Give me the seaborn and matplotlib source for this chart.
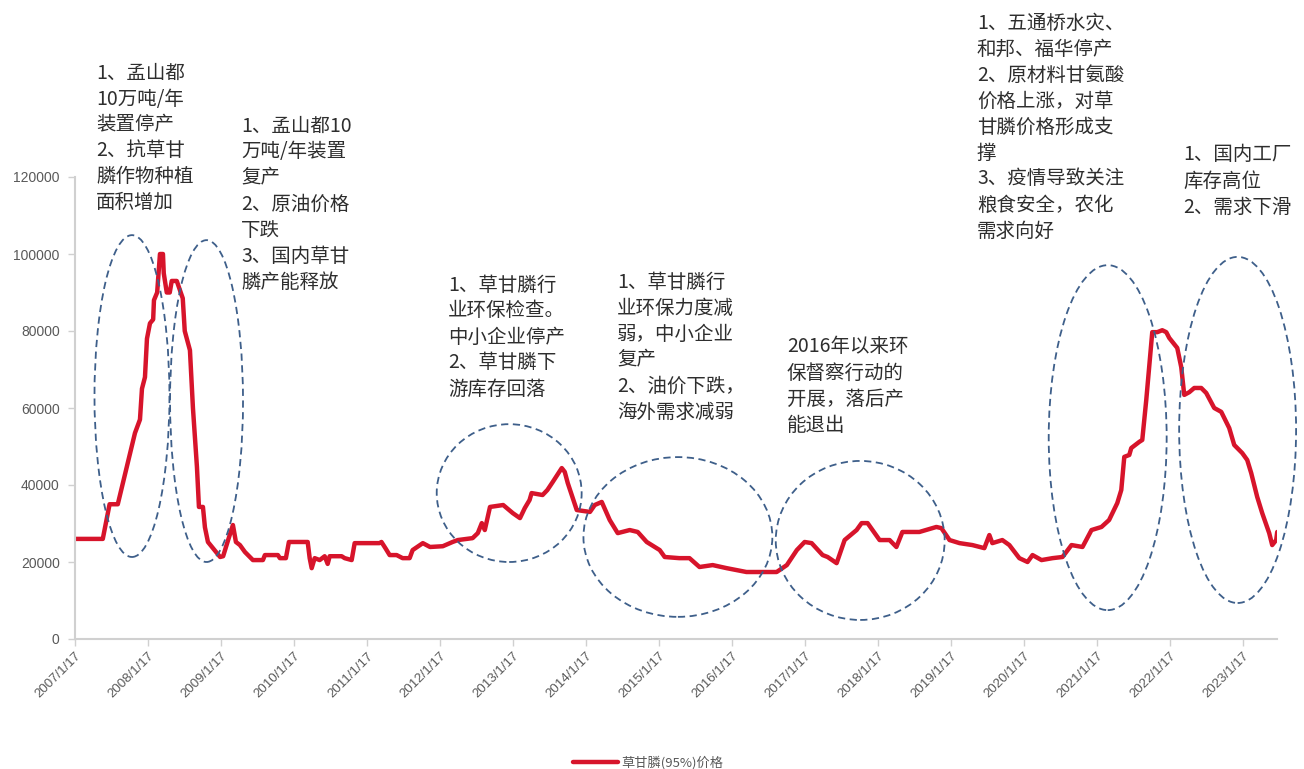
import matplotlib
matplotlib.use("Agg")
import matplotlib.pyplot as plt
import matplotlib.dates as mdates
from matplotlib.patches import Ellipse
import pandas as pd
import seaborn as sns

# Weekly glyphosate (95%) price, sampled at turning points (yuan/ton)
dates = [
    "2007-01-17", "2007-06-05", "2007-07-09", "2007-08-19", "2007-11-13", "2007-12-08",
    "2007-12-18", "2008-01-02", "2008-01-12", "2008-01-27", "2008-02-12", "2008-02-16",
    "2008-03-03", "2008-03-17", "2008-04-01", "2008-04-05", "2008-04-20", "2008-05-05",
    "2008-05-15", "2008-06-09", "2008-07-09", "2008-07-19", "2008-08-14", "2008-08-29",
    "2008-09-18", "2008-09-28", "2008-10-18", "2008-10-28", "2008-11-12", "2008-12-07",
    "2009-01-12", "2009-01-27", "2009-02-21", "2009-03-17", "2009-04-01", "2009-04-21",
    "2009-05-16", "2009-06-10", "2009-06-25", "2009-08-14", "2009-08-24", "2009-10-28",
    "2009-11-07", "2009-12-07", "2009-12-22", "2010-03-26", "2010-04-05", "2010-04-15",
    "2010-04-30", "2010-05-25", "2010-06-19", "2010-07-04", "2010-07-14", "2010-09-12",
    "2010-09-27", "2010-11-01", "2010-11-16", "2011-03-20", "2011-03-30", "2011-04-20",
    "2011-05-10", "2011-06-14", "2011-07-14", "2011-08-18", "2011-09-02", "2011-10-23",
    "2011-11-28", "2012-01-31", "2012-03-20", "2012-04-15", "2012-06-28", "2012-07-24",
    "2012-08-13", "2012-08-28", "2012-09-23", "2012-11-28", "2013-01-15", "2013-02-20",
    "2013-03-16", "2013-04-09", "2013-04-19", "2013-06-13", "2013-07-07", "2013-08-03",
    "2013-09-17", "2013-10-02", "2013-10-17", "2013-12-01", "2014-02-05", "2014-03-01",
    "2014-04-05", "2014-05-15", "2014-06-24", "2014-08-23", "2014-10-02", "2014-11-16",
    "2015-01-20", "2015-02-14", "2015-04-28", "2015-06-18", "2015-08-07", "2015-10-12",
    "2015-12-21", "2016-03-29", "2016-08-27", "2016-10-17", "2016-12-06", "2017-01-14",
    "2017-02-18", "2017-04-14", "2017-05-09", "2017-06-23", "2017-08-02", "2017-10-01",
    "2017-10-26", "2017-11-25", "2018-01-24", "2018-03-15", "2018-04-18", "2018-05-18",
    "2018-08-11", "2018-11-04", "2018-11-29", "2019-01-09", "2019-02-28", "2019-05-03",
    "2019-07-02", "2019-07-27", "2019-08-11", "2019-09-30", "2019-11-04", "2019-12-24",
    "2020-02-03", "2020-02-28", "2020-04-13", "2020-06-07", "2020-07-27", "2020-09-10",
    "2020-11-04", "2020-12-19", "2021-02-07", "2021-03-17", "2021-04-27", "2021-05-17",
    "2021-06-01", "2021-06-26", "2021-07-06", "2021-08-15", "2021-08-30", "2021-09-19",
    "2021-10-19", "2021-11-13", "2021-12-08", "2021-12-28", "2022-01-12", "2022-02-21",
    "2022-03-13", "2022-03-28", "2022-04-22", "2022-05-17", "2022-06-21", "2022-07-16",
    "2022-08-25", "2022-09-29", "2022-11-08", "2022-12-03", "2023-01-12", "2023-02-06",
    "2023-02-26", "2023-03-28", "2023-04-22", "2023-05-27", "2023-06-11", "2023-07-01",
    "2023-07-06",
]
prices = [
    26000, 26000, 35000, 35000, 53500, 57000,
    65000, 68000, 78000, 82000, 83000, 88000,
    90000, 100000, 100000, 95000, 90000, 90000,
    93000, 93000, 88500, 80000, 75000, 60000,
    44700, 34300, 34300, 29000, 25200, 23600,
    21300, 21500, 25700, 29600, 25200, 24400,
    22600, 21300, 20500, 20500, 21800, 21800,
    21000, 21000, 25200, 25200, 21000, 18400,
    21000, 20500, 21500, 19500, 21500, 21500,
    21000, 20500, 24900, 24900, 25200, 23500,
    21800, 21800, 21000, 21000, 23100, 24900,
    23900, 24100, 25200, 25700, 26200, 27500,
    30100, 28300, 34300, 34800, 32700, 31400,
    34000, 36100, 37900, 37400, 38700, 40800,
    44400, 43400, 40500, 33500, 33000, 34800,
    35600, 30900, 27500, 28300, 27800, 25200,
    23100, 21300, 21000, 21000, 18700, 19200,
    18400, 17400, 17400, 19200, 23100, 25200,
    24900, 21800, 21300, 19700, 25700, 28300,
    30100, 30100, 25700, 25700, 23900, 27800,
    27800, 29100, 28800, 25700, 24900, 24400,
    23600, 27000, 24900, 25700, 24400, 21000,
    20000, 21800, 20500, 21000, 21300, 24400,
    23900, 28300, 29100, 30900, 35300, 38700,
    47300, 47800, 49600, 51200, 51700, 62100,
    79700, 79700, 80200, 79700, 78200, 75600,
    70600, 63400, 64100, 65200, 65200, 63900,
    60000, 59000, 54800, 50400, 48300, 46500,
    43100, 36900, 32700, 27500, 24400, 25700,
    27800,
]
series_name = "草甘膦(95%)价格"
tick_dates = [f"{y}-01-17" for y in range(2007, 2024)]
y_ticks = [0, 20000, 40000, 60000, 80000, 100000, 120000]

notes = [
    ["1、孟山都", "10万吨/年", "装置停产", "2、抗草甘", "膦作物种植", "面积增加"],
    ["1、孟山都10", "万吨/年装置", "复产", "2、原油价格", "下跌", "3、国内草甘", "膦产能释放"],
    ["1、草甘膦行", "业环保检查。", "中小企业停产", "2、草甘膦下", "游库存回落"],
    ["1、草甘膦行", "业环保力度减", "弱，中小企业", "复产", "2、油价下跌，", "海外需求减弱"],
    ["2016年以来环", "保督察行动的", "开展，落后产", "能退出"],
    ["1、五通桥水灾、", "和邦、福华停产", "2、原材料甘氨酸", "价格上涨，对草",
     "甘膦价格形成支", "撑", "3、疫情导致关注", "粮食安全，农化", "需求向好"],
    ["1、国内工厂", "库存高位", "2、需求下滑"],
]

df = pd.DataFrame({"date": pd.to_datetime(dates), "price": prices})

sns.set_theme(style="white")
plt.rcParams["font.family"] = ["Noto Sans CJK SC", "DejaVu Sans"]

W, H = 1304, 769
fig = plt.figure(figsize=(W / 100, H / 100), dpi=100)
ax = fig.add_axes([75 / W, 1 - 639 / H, 1202 / W, 462 / H])

sns.lineplot(data=df, x="date", y="price", ax=ax, color="#D7142B",
             linewidth=3.2, label=series_name)

ax.set_xlim(pd.Timestamp("2007-01-17"), pd.Timestamp("2023-07-05"))
ax.set_ylim(0, 120000)
ax.set_xlabel("")
ax.set_ylabel("")

grey = "#595959"
tick_font = ["Liberation Sans", "DejaVu Sans"]
ax.set_yticks(y_ticks)
ax.set_yticklabels([str(v) for v in y_ticks], color=grey, fontsize=10,
                   family=tick_font)
tick_ts = pd.to_datetime(tick_dates)
ax.set_xticks(tick_ts)
ax.set_xticklabels([f"{t.year}/{t.month}/{t.day}" for t in tick_ts], rotation=45,
                   ha="right", rotation_mode="anchor", color=grey, fontsize=9.5,
                   family=tick_font)
ax.tick_params(axis="both", which="major", direction="out", length=5, width=1,
               color="#D0D0D0", left=True, bottom=True)
ax.tick_params(axis="y", pad=6)
ax.tick_params(axis="x", pad=3)

for side in ("top", "right"):
    ax.spines[side].set_visible(False)
for side in ("left", "bottom"):
    ax.spines[side].set_color("#D0D0D0")
    ax.spines[side].set_linewidth(1.5)

# Dashed ellipses marking the price episodes (center date, center value, width days, height)
ellipses = [
    ("2007-10-29", 63100, 375, 83600),
    ("2008-11-05", 61800, 365, 83600),
    ("2012-12-28", 37900, 725, 35800),
    ("2015-04-21", 26500, 945, 41500),
    ("2017-10-19", 25600, 845, 41300),
    ("2021-03-10", 52300, 590, 89600),
    ("2022-12-20", 54300, 585, 89900),
]
for c, v, wd, ht in ellipses:
    e = Ellipse((mdates.date2num(pd.Timestamp(c)), v), width=wd, height=ht,
                fill=False, edgecolor="#3E5F8A", linewidth=1.3,
                linestyle=(0, (4, 2.5)), clip_on=False, zorder=3)
    ax.add_patch(e)

# Explanatory notes, one line at a time
note_pos = [(96, 73), (241, 126), (448, 285), (617, 282), (787, 347), (977, 23), (1183, 155)]
for lines, (x0, y0) in zip(notes, note_pos):
    for i, line in enumerate(lines):
        fig.text(x0 / W, 1 - (y0 + 26 * i) / H, line, fontsize=14, color="#2E2E2E",
                 ha="left", va="center", family=["Noto Sans CJK SC", "DejaVu Sans"])

ax.legend(loc="center", bbox_to_anchor=(0.497, 6 / H), bbox_transform=fig.transFigure,
          frameon=False, fontsize=9.5, handlelength=3.4, labelcolor=grey,
          handletextpad=0.3)

fig.savefig("out.png", dpi=100)
